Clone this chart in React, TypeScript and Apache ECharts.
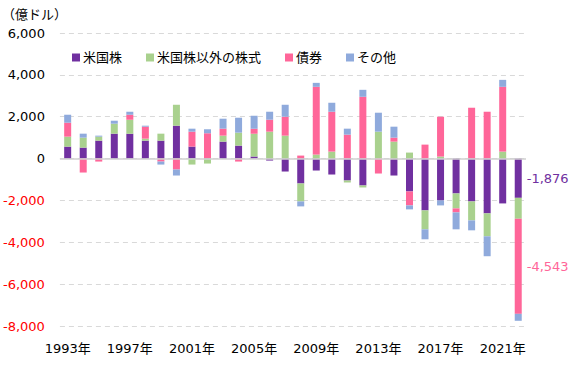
import React, { useEffect, useRef } from "react";
import * as echarts from "echarts";

const years = [
  "1993", "1994", "1995", "1996", "1997", "1998", "1999", "2000", "2001", "2002",
  "2003", "2004", "2005", "2006", "2007", "2008", "2009", "2010", "2011", "2012",
  "2013", "2014", "2015", "2016", "2017", "2018", "2019", "2020", "2021", "2022",
];

// Values in 億ドル (split into positive/negative parts)
const usStocksPos = [571, 524, 857, 1190, 1190, 857, 857, 1571, 571, 20, 810, 619, 95, 0, 0, 0, 0, 0, 0, 0, 0, 0, 0, 0, 0, 0, 0, 0, 0, 0];
const usStocksNeg = [0, 0, 0, 0, 0, 0, 0, 0, 0, 0, 0, 0, 0, -95, -619, -1190, -571, -762, -1048, -1286, 0, -810, -1571, -2476, -2000, -1667, -2048, -2619, -2143, -1876];

const otherStocksPos = [476, 476, 190, 476, 667, 95, 333, 1000, 0, 0, 286, 619, 1095, 1286, 1095, 0, 190, 333, 0, 0, 1286, 810, 286, 0, 95, 0, 0, 0, 333, 0];
const otherStocksNeg = [0, 0, 0, 0, 0, 0, 0, 0, -286, -238, 0, 0, 0, 0, 0, -857, 0, 0, -95, -95, 0, 0, 0, -905, 0, -714, -905, -1095, 0, -1000];

const bondsPos = [667, 0, 0, 0, 238, 571, 0, 0, 714, 1190, 333, 0, 238, 571, 905, 143, 3238, 1905, 1143, 2952, 0, 190, 0, 667, 1905, 0, 2429, 2238, 3095, 0];
const bondsNeg = [0, -667, -143, 0, 0, 0, -143, -524, 0, 0, 0, -143, 0, 0, 0, 0, 0, 0, 0, 0, -714, 0, -667, 0, 0, -190, 0, 0, 0, -4543];

const otherPos = [381, 190, 48, 143, 143, 48, 0, 0, 143, 190, 476, 714, 619, 381, 571, 0, 190, 429, 286, 333, 905, 524, 0, 0, 0, 0, 0, 0, 333, 0];
const otherNeg = [0, 0, 0, 0, 0, 0, -143, -286, 0, 0, 0, 0, 0, 0, 0, -238, 0, 0, 0, 0, 0, 0, -190, -476, -238, -810, -476, -952, 0, -333];

const seriesNames = ["米国株", "米国株以外の株式", "債券", "その他"];
const colors = ["#7030A0", "#A9D18E", "#FF6699", "#8FAADC"];

const yTicks = { min: -8000, max: 6000, interval: 2000 };
const unitLabel = "（億ドル）";
const endLabels = ["-1,876", "", "-4,543", ""];

const FONT = "'DejaVu Sans', 'Noto Sans CJK JP', sans-serif";

export default function App() {
  const ref = useRef<HTMLDivElement>(null);

  useEffect(() => {
    document.body.style.margin = "0";
    if (!ref.current) return;
    const chart = echarts.init(ref.current, undefined, { renderer: "svg" });
    const pos = [usStocksPos, otherStocksPos, bondsPos, otherPos];
    const neg = [usStocksNeg, otherStocksNeg, bondsNeg, otherNeg];
    const last = years.length - 1;

    const series: any[] = seriesNames.map((name, i) => {
      const combined = years.map((_, k) => (pos[i][k] !== 0 ? pos[i][k] : neg[i][k]));
      return {
        name,
        type: "bar",
        stack: "total",
        barWidth: 7,
        itemStyle: { color: colors[i] },
        data: combined.map((v, k) => {
          if (k === last && endLabels[i]) {
            return {
              value: v,
              label: {
                show: true,
                position: "right",
                distance: 5,
                formatter: endLabels[i],
                color: colors[i],
                fontSize: 13,
                fontFamily: FONT,
              },
            };
          }
          return v;
        }),
        markLine:
          i === 0
            ? {
                silent: true,
                symbol: "none",
                label: { show: false },
                lineStyle: { color: "#d0d0d0", type: "solid", width: 1.5 },
                data: [{ yAxis: 0 }],
              }
            : undefined,
      };
    });

    chart.setOption({
      animation: false,
      textStyle: { fontFamily: FONT },
      legend: {
        data: seriesNames,
        left: 67,
        top: 46,
        itemWidth: 8,
        itemHeight: 8,
        itemGap: 24,
        icon: "rect",
        textStyle: { fontSize: 13, color: "#000", fontFamily: FONT, padding: [0, 0, 0, -2] },
      },
      graphic: [
        {
          type: "text",
          left: 2,
          top: 8,
          style: { text: unitLabel, fontSize: 13, fill: "#000", fontFamily: FONT },
        },
      ],
      grid: { left: 59, right: 49, top: 33, bottom: 44 },
      xAxis: {
        type: "category",
        data: years,
        axisLine: { show: false, onZero: false },
        axisTick: { show: false },
        axisLabel: {
          interval: 3,
          formatter: (v: string) => v + "年",
          fontSize: 13,
          color: "#000",
          margin: 16,
          fontFamily: FONT,
        },
      },
      yAxis: {
        type: "value",
        min: yTicks.min,
        max: yTicks.max,
        interval: yTicks.interval,
        axisLine: { show: false },
        axisTick: { show: false },
        splitLine: { lineStyle: { color: "#d9d9d9", type: [5, 4], width: 1.2 } },
        axisLabel: {
          fontSize: 13,
          color: "#000",
          margin: 15,
          fontFamily: FONT,
          formatter: (v: number) => {
            const s = v.toLocaleString("en-US");
            return v < 0 ? `{n|${s}}` : s;
          },
          rich: { n: { color: "#FF0000", fontSize: 13, fontFamily: FONT } },
        },
      },
      series,
    });
    return () => chart.dispose();
  }, []);

  return <div ref={ref} style={{ width: 575, height: 370 }} />;
}
